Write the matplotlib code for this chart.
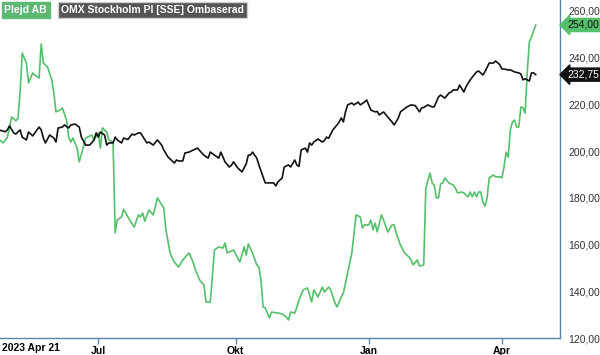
import numpy as np
import pandas as pd
import matplotlib
matplotlib.use('Agg')
import matplotlib.pyplot as plt
import matplotlib.transforms as mtransforms

plt.rcParams['font.family'] = ['Liberation Sans', 'DejaVu Sans']

# trading sessions (Nasdaq Stockholm) from 2023-04-21
holidays = ['2023-05-01', '2023-05-18', '2023-06-06', '2023-06-23',
            '2023-12-25', '2023-12-26', '2024-01-01', '2024-03-29', '2024-04-01']
sessions = pd.bdate_range('2023-04-21', '2024-04-24', freq='C', holidays=holidays)

# Plejd AB, values read at session index
plejd_day = [0, 2, 4, 6, 8, 9, 10, 11, 13, 14, 16, 17, 19, 20, 21, 23, 25, 26, 27, 29,
             30, 32, 33, 34, 35, 37, 38, 40, 41, 44, 45, 47, 48, 49, 51, 52, 54, 55, 56, 58,
             59, 61, 64, 66, 67, 68, 69, 71, 73, 75, 77, 78, 79, 81, 82, 83, 85, 87, 89, 90,
             92, 93, 95, 97, 98, 100, 102, 104, 106, 107, 108, 111, 114, 116, 117, 118, 120, 122, 123, 124,
             125, 126, 128, 129, 132, 134, 136, 137, 138, 140, 141, 142, 144, 146, 148, 149, 151, 153, 154, 156,
             157, 159, 160, 162, 163, 165, 167, 169, 171, 172, 173, 175, 176, 177, 178, 179, 181, 182, 184, 186,
             187, 188, 190, 192, 194, 195, 196, 198, 199, 201, 202, 204, 205, 206, 207, 208, 209, 210, 211, 213,
             215, 216, 217, 219, 220, 222, 223, 224, 225, 226, 227, 228, 229, 230, 231, 232, 234, 235, 237, 238,
             239, 240, 241, 242, 243, 244, 245, 246, 247, 248, 249, 250, 251, 252, 254]
plejd = [205.0, 203.5, 206.0, 214.6, 213.0, 214.0, 225.0, 242.0, 237.7, 229.2, 233.5, 232.6, 231.3, 245.9, 237.7, 236.0, 230.5, 224.9, 216.8, 217.6,
         218.5, 213.3, 206.0, 203.9, 205.6, 201.3, 195.4, 201.8, 205.6, 206.9, 204.8, 207.8, 201.3, 209.9, 208.2, 204.8, 203.9, 165.0, 170.5, 171.8,
         175.2, 171.8, 167.5, 172.7, 171.8, 173.5, 170.0, 174.8, 172.7, 180.0, 177.0, 175.7, 166.3, 156.4, 154.3, 152.5, 150.4, 153.4, 155.5, 156.4,
         152.1, 149.1, 144.8, 142.7, 135.4, 135.4, 157.7, 159.0, 158.5, 160.7, 156.4, 157.7, 152.5, 159.0, 155.5, 160.3, 156.4, 151.3, 150.4, 144.8,
         133.3, 132.9, 128.6, 131.1, 130.7, 130.3, 129.0, 127.7, 131.1, 130.7, 133.3, 136.3, 140.6, 141.4, 135.4, 140.6, 137.6, 141.8, 139.7, 141.8,
         140.6, 135.0, 133.3, 137.6, 139.3, 147.8, 156.4, 172.7, 171.8, 167.1, 168.4, 168.4, 170.5, 166.3, 169.2, 165.4, 172.7, 170.5, 165.4, 168.4,
         168.4, 165.0, 159.8, 156.4, 154.7, 153.4, 151.3, 153.4, 150.8, 151.3, 184.2, 190.6, 186.3, 185.5, 180.0, 180.0, 186.0, 186.3, 188.5, 186.3,
         185.5, 184.2, 182.1, 182.5, 182.1, 180.4, 182.5, 180.4, 182.5, 180.4, 182.5, 182.5, 178.2, 176.5, 180.0, 188.5, 189.8, 189.0, 189.0, 188.5,
         193.2, 199.6, 197.5, 209.1, 212.5, 213.3, 210.3, 210.3, 218.9, 218.5, 216.3, 233.9, 246.7, 248.9, 254.0]

# OMX Stockholm PI, rebased
omx_day = [0, 3, 4, 5, 7, 8, 10, 11, 13, 14, 16, 18, 19, 20, 21, 22, 24, 26, 27, 28,
           30, 31, 33, 34, 36, 38, 39, 41, 43, 45, 46, 47, 48, 50, 51, 52, 54, 55, 56, 58,
           59, 61, 63, 64, 66, 67, 70, 71, 73, 75, 77, 78, 80, 83, 84, 85, 87, 88, 90, 92,
           94, 96, 97, 99, 100, 102, 104, 105, 107, 109, 110, 111, 113, 115, 116, 117, 118, 119, 120, 122,
           123, 125, 126, 128, 130, 131, 132, 134, 135, 137, 138, 140, 141, 142, 143, 145, 146, 147, 148, 149,
           151, 153, 154, 155, 156, 158, 160, 161, 162, 163, 164, 165, 167, 168, 170, 171, 173, 174, 176, 178,
           179, 180, 182, 184, 186, 187, 189, 190, 193, 195, 197, 199, 200, 201, 203, 205, 206, 208, 209, 211,
           213, 214, 215, 217, 218, 220, 221, 223, 224, 226, 227, 229, 230, 232, 234, 235, 237, 238, 240, 241,
           242, 244, 246, 247, 248, 249, 251, 252, 253, 254]
omx = [209.1, 208.3, 209.1, 210.8, 207.8, 207.3, 209.1, 206.0, 204.8, 208.2, 206.5, 209.1, 210.3, 209.1, 205.6, 203.5, 206.9, 205.6, 203.9, 209.9,
       210.3, 211.2, 209.9, 211.2, 211.6, 210.3, 206.0, 202.6, 202.6, 204.8, 207.8, 206.0, 208.2, 206.9, 202.6, 203.5, 203.5, 206.0, 204.8, 203.5,
       205.6, 205.0, 207.3, 206.9, 207.8, 207.8, 203.5, 203.9, 202.6, 204.8, 202.6, 200.5, 197.5, 194.9, 196.2, 195.8, 195.8, 199.2, 199.6, 200.5,
       201.3, 199.2, 198.3, 197.0, 199.6, 198.3, 197.0, 199.6, 195.4, 193.2, 193.9, 195.4, 192.8, 191.1, 192.8, 194.5, 198.3, 198.3, 199.6, 197.0,
       194.1, 189.0, 186.4, 186.4, 186.4, 185.1, 186.8, 188.5, 193.2, 194.1, 193.2, 196.2, 194.0, 193.5, 200.5, 201.3, 199.6, 203.5, 202.6, 203.9,
       205.2, 203.9, 204.5, 206.0, 205.5, 209.1, 211.2, 212.5, 214.2, 212.5, 216.8, 219.8, 220.6, 219.8, 221.0, 219.8, 221.0, 221.9, 217.6, 216.8,
       217.0, 215.5, 216.8, 214.6, 212.5, 211.2, 214.2, 216.8, 218.9, 219.8, 219.5, 216.8, 218.5, 218.7, 219.8, 218.9, 219.0, 223.2, 224.0, 222.7,
       224.9, 225.3, 226.2, 226.2, 228.3, 225.3, 227.5, 230.5, 231.7, 233.9, 234.3, 232.6, 234.0, 237.7, 237.7, 238.6, 237.0, 235.2, 235.0, 234.7,
       234.8, 233.9, 233.5, 233.0, 230.5, 231.0, 230.0, 233.5, 233.5, 232.75]

yticks = [120, 140, 160, 180, 200, 220, 240, 260]
month_starts = ['2023-07', '2023-10', '2024-01', '2024-04']
month_labels = ['Jul', 'Okt', 'Jan', 'Apr']

green = '#55c06c'
axis_col = '#5b86a3'

fig = plt.figure(figsize=(6, 3.55), dpi=100)
ax = fig.add_axes([0.0, 17 / 355, 560 / 600, 338 / 355])

ax.plot(plejd_day, plejd, color=green, lw=1.2)
ax.plot(omx_day, omx, color='#111111', lw=1.2)

ax.set_xlim(0.5, 265.5)
ax.set_ylim(120, 264.7)

for s in ['top', 'left']:
    ax.spines[s].set_visible(False)
for s in ['right', 'bottom']:
    ax.spines[s].set_color(axis_col)
    ax.spines[s].set_linewidth(1.0)

ax.yaxis.tick_right()
ax.set_yticks(yticks)
ax.set_yticklabels([f'{v:.2f}'.replace('.', ',') for v in yticks])
ax.tick_params(axis='y', length=0, pad=6, labelsize=7.5, labelcolor='#333333')

# first session of each month
tick_pos = [int(np.argmax(sessions.strftime('%Y-%m') == m)) for m in month_starts]
ax.set_xticks(tick_pos)
ax.set_xticklabels(month_labels, fontweight='bold')
ax.tick_params(axis='x', length=4, width=1, color=axis_col, pad=1.5, labelsize=7.5)

trans = mtransforms.blended_transform_factory(ax.transAxes, ax.transAxes)
ax.text(0.004, -0.0135, sessions[0].strftime('%Y %b %d'), transform=trans,
        ha='left', va='top', fontsize=7.5, fontweight='bold')

# legend boxes
ax.text(0.008, 0.985, 'Plejd AB', transform=ax.transAxes, ha='left', va='top',
        color='white', fontsize=7.5, fontweight='bold',
        bbox=dict(boxstyle='square,pad=0.25', fc='#5cb872', ec='#5cb872'))
ax.text(0.109, 0.985, 'OMX Stockholm PI [SSE] Ombaserad', transform=ax.transAxes,
        ha='left', va='top', color='white', fontsize=7.5, fontweight='bold',
        bbox=dict(boxstyle='square,pad=0.25', fc='#555555', ec='#cfcfcf'))

# last value badges
ax.annotate(f'{plejd[-1]:.2f}'.replace('.', ','), xy=(1.0, plejd[-1]),
            xycoords=('axes fraction', 'data'), xytext=(5, 0), textcoords='offset points',
            ha='left', va='center', fontsize=7.5, color='#111111', annotation_clip=False,
            bbox=dict(boxstyle='larrow,pad=0.15', fc=green, ec=green))
ax.annotate(f'{omx[-1]:.2f}'.replace('.', ','), xy=(1.0, omx[-1]),
            xycoords=('axes fraction', 'data'), xytext=(5, 0), textcoords='offset points',
            ha='left', va='center', fontsize=7.5, color='white', annotation_clip=False,
            bbox=dict(boxstyle='larrow,pad=0.15', fc='#111111', ec='#111111'))

fig.savefig('out.png', dpi=100)
